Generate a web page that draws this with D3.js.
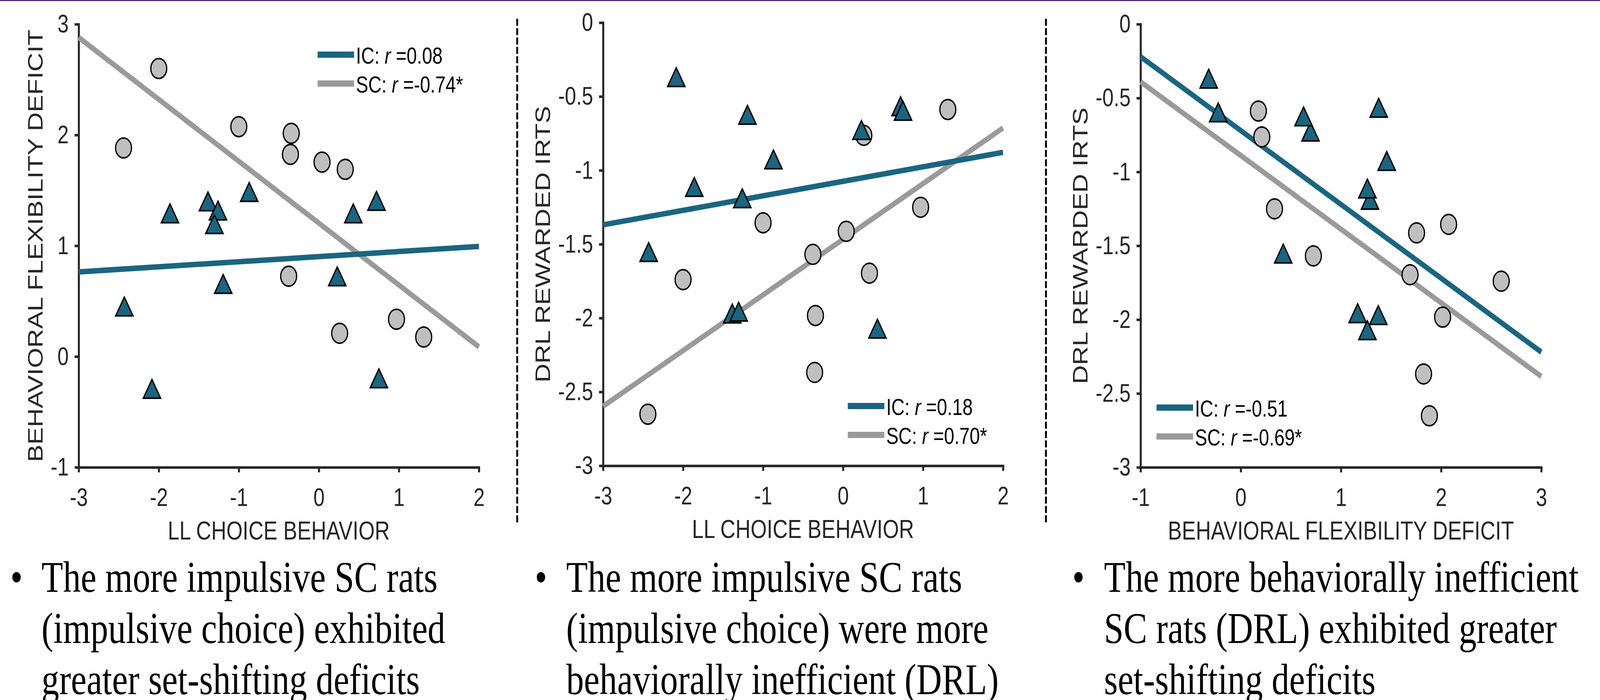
<!DOCTYPE html>
<html><head><meta charset="utf-8">
<script src="https://cdn.jsdelivr.net/npm/d3@7"></script>
<style>html,body{margin:0;padding:0;background:#fff;width:100%;height:100%;overflow:hidden;} svg{display:block;width:100vw;height:100vh;}</style>
</head><body>
<svg id="chart" viewBox="0 0 5123 1793" preserveAspectRatio="none"></svg>
<script>
// ---------------- DATA ----------------
// IC rats (triangles): LL choice behavior, behavioral flexibility deficit, DRL rewarded IRTs
const icLL  = [-0.87, -1.385, -1.26, -1.305, -1.86, 0.72, 0.43, 0.23, -1.195, -2.43, -2.085, 0.75];
const icBFD = [1.457, 1.373, 1.29, 1.167, 1.264, 1.377, 1.264, 0.696, 0.627, 0.424, -0.32, -0.225];
const icDRL = [-0.947, -1.99, -1.21, -1.978, -1.133, -0.587, -2.093, -0.748, -0.645, -1.574, -0.39, -0.618];
// SC rats (circles)
const scLL  = [-2.44, -2.00, -1.00, -0.345, -0.355, -0.377, 0.04, 0.33, 0.26, 0.97, 1.31];
const scBFD = [1.883, 2.60, 2.075, 2.015, 1.825, 0.725, 1.755, 1.69, 0.21, 0.337, 0.176];
const scDRL = [-2.651, -1.74, -1.355, -1.983, -2.368, -1.569, -1.413, -1.696, -0.763, -1.25, -0.588];

// fitted regression lines: y at left and right end of x-range
const fitP1IC = [0.764, 0.994];
const fitP1SC = [2.88, 0.087];
const fitP2IC = [-1.369, -0.878];
const fitP2SC = [-2.597, -0.713];
const fitP3IC = [-0.22, -2.22];
const fitP3SC = [-0.39, -2.385];

// axis ticks
const ticksLL = [-3, -2, -1, 0, 1, 2];
const tickLabelsLL = ["-3", "-2", "-1", "0", "1", "2"];
const ticksBFDy = [-1, 0, 1, 2, 3];
const tickLabelsBFDy = ["-1", "0", "1", "2", "3"];
const ticksBFDx = [-1, 0, 1, 2, 3];
const tickLabelsBFDx = ["-1", "0", "1", "2", "3"];
const ticksDRL = [-3, -2.5, -2, -1.5, -1, -0.5, 0];
const tickLabelsDRL = ["-3", "-2.5", "-2", "-1.5", "-1", "-0.5", "0"];

// legend r values
const rP1 = ["0.08", "-0.74*"];
const rP2 = ["0.18", "0.70*"];
const rP3 = ["-0.51", "-0.69*"];

// axis titles
const titleLL = "LL CHOICE BEHAVIOR";
const titleBFD = "BEHAVIORAL FLEXIBILITY DEFICIT";
const titleDRL = "DRL REWARDED IRTS";

// bullet texts
const bullets1 = ["The more impulsive SC rats", "(impulsive choice) exhibited", "greater set-shifting deficits"];
const bullets2 = ["The more impulsive SC rats", "(impulsive choice) were more", "behaviorally inefficient (DRL)"];
const bullets3 = ["The more behaviorally inefficient", "SC rats (DRL) exhibited greater", "set-shifting deficits"];

// ---------------- STYLE / LAYOUT ----------------
const TEAL = "#1b6580", GRAYLINE = "#9a9a9a", GRAYFILL = "#bfbfbf", AX = "#262626";
const SANS = "'Liberation Sans', Arial, Helvetica, sans-serif";
const SERIF = "'Liberation Serif', 'Times New Roman', serif";

const svg = d3.select("#chart");
svg.append("rect").attr("x", 0).attr("y", 0).attr("width", 5123).attr("height", 1793).attr("fill", "#fff");
svg.append("rect").attr("x", 0).attr("y", 0).attr("width", 5123).attr("height", 2.5).attr("fill", "#3d1168");

const panels = [
  {x0: 252, x1: 1533.5, y0: 62, y1: 1197, xd: [-3, 2], yd: [-1, 3],
   xs: [icLL, scLL], ys: [icBFD, scBFD], fitIC: fitP1IC, fitSC: fitP1SC,
   xt: ticksLL, xtl: tickLabelsLL, yt: ticksBFDy, ytl: tickLabelsBFDy,
   xTitle: titleLL, yTitle: titleBFD, r: rP1, legend: "ne",
   bullets: bullets1, bx: 53, tx: 133},
  {x0: 1931, x1: 3211.5, y0: 58, y1: 1193, xd: [-3, 2], yd: [-3, 0],
   xs: [icLL, scLL], ys: [icDRL, scDRL], fitIC: fitP2IC, fitSC: fitP2SC,
   xt: ticksLL, xtl: tickLabelsLL, yt: ticksDRL, ytl: tickLabelsDRL,
   xTitle: titleLL, yTitle: titleDRL, r: rP2, legend: "se",
   bullets: bullets2, bx: 1732, tx: 1813},
  {x0: 3652, x1: 4935, y0: 62, y1: 1197, xd: [-1, 3], yd: [-3, 0],
   xs: [icBFD, scBFD], ys: [icDRL, scDRL], fitIC: fitP3IC, fitSC: fitP3SC,
   xt: ticksBFDx, xtl: tickLabelsBFDx, yt: ticksDRL, ytl: tickLabelsDRL,
   xTitle: titleBFD, yTitle: titleDRL, r: rP3, legend: "sw",
   bullets: bullets3, bx: 3453, tx: 3535}
];

// dashed dividers
[1656, 3349].forEach(xp => {
  svg.append("line").attr("x1", xp).attr("x2", xp).attr("y1", 48).attr("y2", 1344)
    .attr("stroke", "#000").attr("stroke-width", 6).attr("stroke-dasharray", "18,6");
});

const triSym = d3.symbol().type(d3.symbolTriangle).size(1330);

panels.forEach(p => {
  const x = d3.scaleLinear().domain(p.xd).range([p.x0, p.x1]);
  const y = d3.scaleLinear().domain(p.yd).range([p.y1, p.y0]);
  const g = svg.append("g");

  // axes
  const xa = g.append("g").attr("transform", `translate(0,${p.y1})`)
    .call(d3.axisBottom(x).tickValues(p.xt).tickFormat((d, i) => p.xtl[i])
      .tickSize(13).tickSizeOuter(0).tickPadding(40));
  const ya = g.append("g").attr("transform", `translate(${p.x0},0)`)
    .call(d3.axisLeft(y).tickValues(p.yt).tickFormat((d, i) => p.ytl[i])
      .tickSize(13).tickSizeOuter(0).tickPadding(19));
  [xa, ya].forEach(a => {
    a.selectAll("path.domain").attr("stroke", AX).attr("stroke-width", 6.5).attr("stroke-linecap", "square");
    a.selectAll(".tick line").attr("stroke", AX).attr("stroke-width", 6.5);
    a.selectAll(".tick text").attr("font-family", SANS).attr("font-size", 65).attr("fill", AX);
  });

  // axis titles
  g.append("text").attr("x", (p.x0 + p.x1) / 2).attr("y", p.y1 + 185)
    .attr("text-anchor", "middle").attr("font-family", SANS).attr("font-size", 67)
    .attr("fill", AX).text(p.xTitle);
  let maxW = 0;
  ya.selectAll(".tick text").each(function () { maxW = Math.max(maxW, this.getComputedTextLength()); });
  const ylx = p.x0 - 32 - maxW - 26;
  const ylc = (p.y0 + p.y1) / 2;
  g.append("text").attr("transform", `translate(${ylx},${ylc}) rotate(-90)`)
    .attr("text-anchor", "middle").attr("font-family", SANS).attr("font-size", 67)
    .attr("fill", AX).text(p.yTitle);

  // regression lines
  const fits = [{v: p.fitSC, c: GRAYLINE}, {v: p.fitIC, c: TEAL}];
  g.selectAll("line.fit").data(fits).enter().append("line")
    .attr("x1", x(p.xd[0])).attr("x2", x(p.xd[1]))
    .attr("y1", d => y(d.v[0])).attr("y2", d => y(d.v[1]))
    .attr("stroke", d => d.c).attr("stroke-width", 14);

  // SC circles
  g.selectAll("circle.sc").data(p.xs[1].map((v, i) => [v, p.ys[1][i]])).enter()
    .append("circle").attr("cx", d => x(d[0])).attr("cy", d => y(d[1])).attr("r", 25.5)
    .attr("fill", GRAYFILL).attr("stroke", "#000").attr("stroke-width", 4);
  // IC triangles
  g.selectAll("path.ic").data(p.xs[0].map((v, i) => [v, p.ys[0][i]])).enter()
    .append("path").attr("d", triSym)
    .attr("transform", d => `translate(${x(d[0])},${y(d[1])})`)
    .attr("fill", TEAL).attr("stroke", "#000").attr("stroke-width", 4).attr("stroke-linejoin", "miter");

  // legend
  const items = [{lab: "IC: ", r: p.r[0], c: TEAL}, {lab: "SC: ", r: p.r[1], c: GRAYLINE}];
  const ly = p.legend === "ne" ? [p.y0 + 78, p.y0 + 152] : [p.y1 - 153, p.y1 - 79];
  const lg = g.append("g");
  const texts = items.map((it, i) => {
    const t = lg.append("text").attr("y", ly[i] + 23).attr("font-family", SANS)
      .attr("font-size", 59).attr("fill", "#000");
    t.append("tspan").text(it.lab);
    t.append("tspan").attr("font-style", "italic").text("r");
    t.append("tspan").text(" =" + it.r);
    return t;
  });
  const tw = Math.max(...texts.map(t => t.node().getComputedTextLength()));
  let textX;
  if (p.legend === "sw") textX = p.x0 + 51 + 117 + 6;
  else textX = p.x1 - 51 - tw;
  texts.forEach(t => t.attr("x", textX));
  items.forEach((it, i) => {
    lg.append("line").attr("x1", textX - 6 - 117).attr("x2", textX - 6)
      .attr("y1", ly[i]).attr("y2", ly[i]).attr("stroke", it.c).attr("stroke-width", 16);
  });

  // bullet text
  const baselines = [1516, 1647, 1778];
  svg.append("text").attr("x", p.bx).attr("y", baselines[0]).attr("text-anchor", "middle")
    .attr("font-family", SERIF).attr("font-size", 113).attr("fill", "#000").text("\u2022");
  p.bullets.forEach((line, i) => {
    svg.append("text").attr("x", p.tx).attr("y", baselines[i])
      .attr("font-family", SERIF).attr("font-size", 113).attr("fill", "#000").text(line);
  });
});
</script>
</body></html>
